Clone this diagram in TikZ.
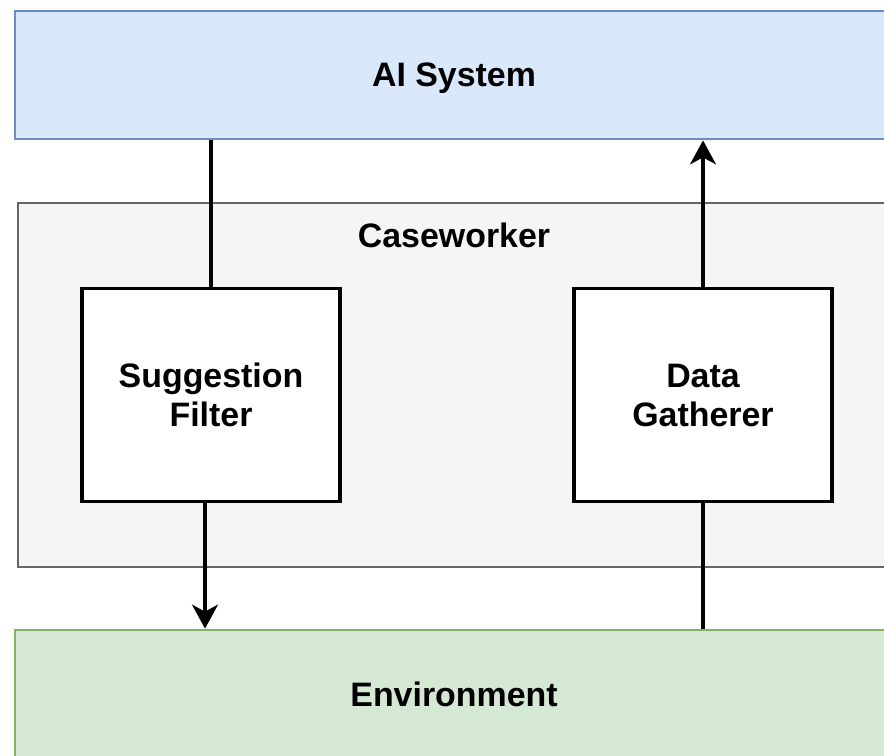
\documentclass[tikz,border=0pt]{standalone}
\usepackage{fontspec}
\setmainfont{Liberation Sans}
\usetikzlibrary{arrows.meta}

\definecolor{aifill}{HTML}{DAE8FC}
\definecolor{aidraw}{HTML}{6C8EBF}
\definecolor{cwfill}{HTML}{F5F5F5}
\definecolor{cwdraw}{HTML}{666666}
\definecolor{envfill}{HTML}{D5E8D4}
\definecolor{envdraw}{HTML}{82B366}

\begin{document}
\begin{tikzpicture}[x=0.02cm,y=-0.02cm,
        font=\fontsize{19.3}{22.2}\selectfont\bfseries,
        layer/.style={draw,rectangle,line width=1.6pt,text depth=0pt,minimum width=17.56cm,minimum height=2.56cm},
        part/.style={draw,rectangle,fill=white,line width=1.8pt,align=center,minimum width=5.16cm,minimum height=4.26cm},
        link/.style={line width=1.8pt},
        flow/.style={link,-{Stealth[length=0.48cm,width=0.52cm,inset=0.14cm]}}]
        \useasboundingbox (0,0) rectangle (884,755);
        %% Layers
        \node[layer,fill=aifill,draw=aidraw] (ai) at (454,75) {AI System};
        \node[layer,fill=cwfill,draw=cwdraw,minimum width=17.44cm,minimum height=7.28cm] (cw) at (454,385) {};
        \node[anchor=base] (cwlabel) at (454,247) {Caseworker};
        \node[layer,fill=envfill,draw=envdraw] (env) at (454,694) {Environment};
        %% Parts
        \node[part] (filter) at (211,395) {Suggestion\\Filter};
        \node[part] (gatherer) at (703,395) {Data\\Gatherer};
        %% Lines
        \draw[link] (ai.south -| filter.north) -- (filter.north);
        \draw[flow] ([xshift=-0.12cm]filter.south) -- ([xshift=-0.12cm]filter.south |- env.north);
        \draw[link] (env.north -| gatherer.south) -- (gatherer.south);
        \draw[flow] (gatherer.north) -- (gatherer.north |- ai.south);
    \end{tikzpicture}
\end{document}
